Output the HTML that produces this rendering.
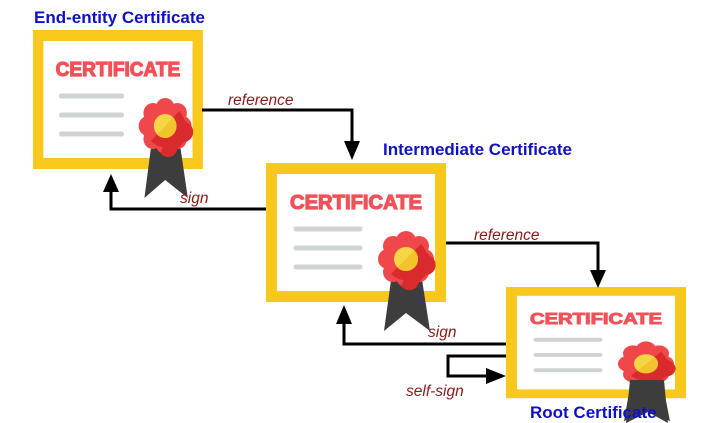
<!DOCTYPE html>
<html><head><meta charset="utf-8"><style>
html,body{margin:0;padding:0;background:#fff;width:720px;height:423px;overflow:hidden}
svg{display:block}
.t{font-family:"Liberation Sans",sans-serif;font-weight:bold;fill:#1010c8;font-size:17px}
.l{font-family:"Liberation Sans",sans-serif;font-style:italic;fill:#8b1a1a;font-size:15.5px}
.c{font-family:"Liberation Sans",sans-serif;font-weight:bold;fill:#f25158;stroke:#f25158;stroke-width:1.2;font-size:20px}
</style></head><body>
<svg width="720" height="423" viewBox="0 0 720 423">
<defs>
<g id="cert">
<rect x="0" y="0" width="180" height="139" fill="#f9c81d"/>
<rect x="11" y="11" width="158" height="117" fill="#fff"/>
<text class="c" x="24" y="46" textLength="132" lengthAdjust="spacingAndGlyphs">CERTIFICATE</text>
<g stroke="#d0d3d4" stroke-width="5" stroke-linecap="round">
<line x1="30" y1="66" x2="94" y2="66"/><line x1="30" y1="85" x2="94" y2="85"/><line x1="30" y1="104" x2="94" y2="104"/>
</g>
<polygon points="126,110 118,168 140,150 164,168 155,110" fill="#3d3d3d"/>
<g fill="#f0474b">
<circle cx="140" cy="78" r="10"/><circle cx="140" cy="114" r="10"/><circle cx="122" cy="96" r="10"/><circle cx="158" cy="96" r="10"/>
<circle cx="127" cy="83" r="10"/><circle cx="153" cy="83" r="10"/><circle cx="127" cy="109" r="10"/><circle cx="153" cy="109" r="10"/>
<circle cx="140" cy="96" r="19"/>
</g>
<path d="M155 81 A21 21 0 0 1 125 111 Z" fill="#d92b2e"/>
<path d="M153 83 L164 93 A10 10 0 0 1 160 112 L153 119 A10 10 0 0 1 135 123 Z" fill="#d92b2e"/>
<circle cx="140" cy="96" r="12" fill="#f7d646"/>
<path d="M148.5 87.5 A12 12 0 0 1 131.5 104.5 Z" fill="#f3c32c"/>
</g>
</defs>
<use href="#cert" transform="translate(33,30) scale(0.944,1)"/>
<use href="#cert" transform="translate(266,163)"/>
<use href="#cert" transform="translate(506,287) scale(1,0.8)"/>
<polygon points="630,380 626,423 648,412 668,423 664,380" fill="#3d3d3d"/>
<text class="t" x="34" y="23">End-entity Certificate</text>
<text class="t" x="383" y="155">Intermediate Certificate</text>
<text class="t" x="530" y="418">Root Certificate</text>
<g fill="none" stroke="#000" stroke-width="3">
<polyline points="202,110 352,110 352,145"/>
<polyline points="266,209 111,209 111,190"/>
<polyline points="446,243 598,243 598,272"/>
<polyline points="506,344 344,344 344,322"/>
<polyline points="506,356 448,356 448,376 488,376"/>
</g>
<g fill="#000">
<polygon points="344,141 360,141 352,160"/>
<polygon points="103,192 119,192 111,174"/>
<polygon points="590,270 606,270 598,288"/>
<polygon points="336,324 352,324 344,305"/>
<polygon points="486,368 486,384 506,376"/>
</g>
<text class="l" x="228" y="105">reference</text>
<text class="l" x="180" y="203">sign</text>
<text class="l" x="474" y="240">reference</text>
<text class="l" x="428" y="337">sign</text>
<text class="l" x="406" y="396">self-sign</text>
</svg>
</body></html>
